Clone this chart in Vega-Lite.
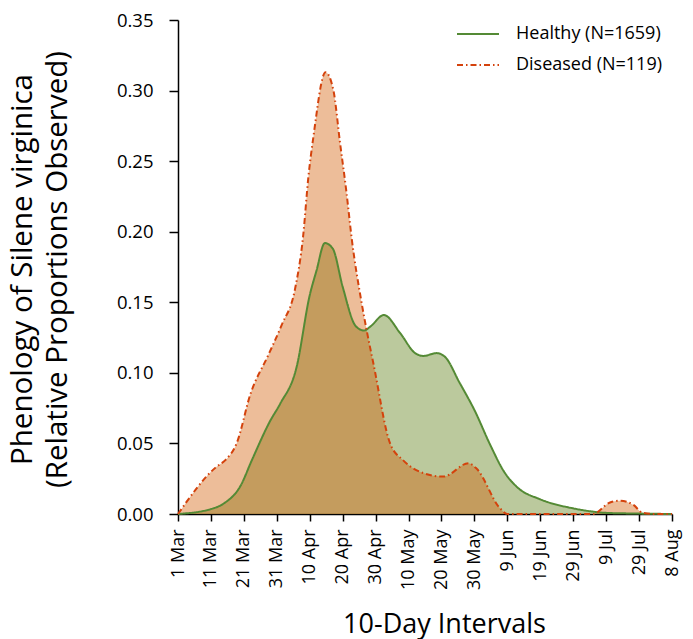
{
  "$schema": "https://vega.github.io/schema/vega-lite/v6.json",
  "autosize": {"type": "none"},
  "padding": {"left": 178, "top": 20, "right": 21, "bottom": 125},
  "width": 494,
  "height": 494,
  "background": "white",
  "config": {
    "font": "Open Sans",
    "view": {"stroke": null},
    "axis": {"grid": false, "domainColor": "black", "tickColor": "black", "labelColor": "black", "titleColor": "black", "titleFontWeight": "normal", "domainWidth": 1.5, "tickWidth": 1.5}
  },
  "data": {
    "values": [
      {"day": 0, "value": 0, "series": "Healthy (N=1659)"},
      {"day": 10, "value": 0.0035, "series": "Healthy (N=1659)"},
      {"day": 14, "value": 0.0076, "series": "Healthy (N=1659)"},
      {"day": 19, "value": 0.02, "series": "Healthy (N=1659)"},
      {"day": 22.4, "value": 0.038, "series": "Healthy (N=1659)"},
      {"day": 28, "value": 0.066, "series": "Healthy (N=1659)"},
      {"day": 31, "value": 0.078, "series": "Healthy (N=1659)"},
      {"day": 36, "value": 0.104, "series": "Healthy (N=1659)"},
      {"day": 40, "value": 0.155, "series": "Healthy (N=1659)"},
      {"day": 42, "value": 0.172, "series": "Healthy (N=1659)"},
      {"day": 44.6, "value": 0.192, "series": "Healthy (N=1659)"},
      {"day": 47, "value": 0.188, "series": "Healthy (N=1659)"},
      {"day": 50, "value": 0.161, "series": "Healthy (N=1659)"},
      {"day": 54, "value": 0.133, "series": "Healthy (N=1659)"},
      {"day": 56.5, "value": 0.13, "series": "Healthy (N=1659)"},
      {"day": 58.5, "value": 0.133, "series": "Healthy (N=1659)"},
      {"day": 62.5, "value": 0.141, "series": "Healthy (N=1659)"},
      {"day": 67.5, "value": 0.128, "series": "Healthy (N=1659)"},
      {"day": 72, "value": 0.114, "series": "Healthy (N=1659)"},
      {"day": 74.5, "value": 0.112, "series": "Healthy (N=1659)"},
      {"day": 78.5, "value": 0.114, "series": "Healthy (N=1659)"},
      {"day": 81, "value": 0.1115, "series": "Healthy (N=1659)"},
      {"day": 85.5, "value": 0.093, "series": "Healthy (N=1659)"},
      {"day": 90, "value": 0.0737, "series": "Healthy (N=1659)"},
      {"day": 95, "value": 0.048, "series": "Healthy (N=1659)"},
      {"day": 99, "value": 0.03, "series": "Healthy (N=1659)"},
      {"day": 103, "value": 0.019, "series": "Healthy (N=1659)"},
      {"day": 110, "value": 0.0104, "series": "Healthy (N=1659)"},
      {"day": 120, "value": 0.004, "series": "Healthy (N=1659)"},
      {"day": 125, "value": 0.002, "series": "Healthy (N=1659)"},
      {"day": 130, "value": 0.0008, "series": "Healthy (N=1659)"},
      {"day": 140, "value": 0.0003, "series": "Healthy (N=1659)"},
      {"day": 150, "value": 0, "series": "Healthy (N=1659)"},
      {"day": 0, "value": 0, "series": "Diseased (N=119)"},
      {"day": 11.7, "value": 0.0335, "series": "Diseased (N=119)"},
      {"day": 14.3, "value": 0.038, "series": "Diseased (N=119)"},
      {"day": 17.8, "value": 0.05, "series": "Diseased (N=119)"},
      {"day": 22, "value": 0.085, "series": "Diseased (N=119)"},
      {"day": 27.5, "value": 0.113, "series": "Diseased (N=119)"},
      {"day": 31.5, "value": 0.134, "series": "Diseased (N=119)"},
      {"day": 35.5, "value": 0.159, "series": "Diseased (N=119)"},
      {"day": 38, "value": 0.197, "series": "Diseased (N=119)"},
      {"day": 39.6, "value": 0.239, "series": "Diseased (N=119)"},
      {"day": 41.1, "value": 0.267, "series": "Diseased (N=119)"},
      {"day": 44.8, "value": 0.313, "series": "Diseased (N=119)"},
      {"day": 47.2, "value": 0.3, "series": "Diseased (N=119)"},
      {"day": 49.2, "value": 0.263, "series": "Diseased (N=119)"},
      {"day": 51.2, "value": 0.227, "series": "Diseased (N=119)"},
      {"day": 52.7, "value": 0.196, "series": "Diseased (N=119)"},
      {"day": 55.8, "value": 0.149, "series": "Diseased (N=119)"},
      {"day": 57.3, "value": 0.13, "series": "Diseased (N=119)"},
      {"day": 59.3, "value": 0.107, "series": "Diseased (N=119)"},
      {"day": 64.4, "value": 0.05, "series": "Diseased (N=119)"},
      {"day": 68.4, "value": 0.038, "series": "Diseased (N=119)"},
      {"day": 74.5, "value": 0.029, "series": "Diseased (N=119)"},
      {"day": 80.6, "value": 0.0265, "series": "Diseased (N=119)"},
      {"day": 88.2, "value": 0.036, "series": "Diseased (N=119)"},
      {"day": 90.7, "value": 0.032, "series": "Diseased (N=119)"},
      {"day": 97.8, "value": 0.004, "series": "Diseased (N=119)"},
      {"day": 100, "value": 0, "series": "Diseased (N=119)"},
      {"day": 110, "value": 0, "series": "Diseased (N=119)"},
      {"day": 120, "value": 0, "series": "Diseased (N=119)"},
      {"day": 126, "value": 0, "series": "Diseased (N=119)"},
      {"day": 131, "value": 0.008, "series": "Diseased (N=119)"},
      {"day": 134.2, "value": 0.0094, "series": "Diseased (N=119)"},
      {"day": 138.3, "value": 0.0064, "series": "Diseased (N=119)"},
      {"day": 141, "value": 0.001, "series": "Diseased (N=119)"},
      {"day": 145, "value": 0, "series": "Diseased (N=119)"},
      {"day": 150, "value": 0, "series": "Diseased (N=119)"}
    ]
  },
  "encoding": {
    "x": {
      "field": "day", "type": "quantitative",
      "scale": {"domain": [0, 150], "nice": false, "zero": false},
      "axis": {
        "values": [0, 10, 20, 30, 40, 50, 60, 70, 80, 90, 100, 110, 120, 130, 140, 150],
        "labelExpr": "['1 Mar','11 Mar','21 Mar','31 Mar','10 Apr','20 Apr','30 Apr','10 May','20 May','30 May','9 Jun','19 Jun','29 Jun','9 Jul','29 Jul','8 Aug'][round(datum.value/10)]",
        "labelAngle": -90, "labelFontSize": 18, "labelPadding": 8, "tickSize": 7,
        "title": "10-Day Intervals", "titleFontSize": 27, "titleX": 266, "titleY": 118, "titleBaseline": "alphabetic", "titleAlign": "center"
      }
    },
    "y": {
      "field": "value", "type": "quantitative",
      "scale": {"domain": [0, 0.35], "nice": false},
      "axis": {
        "values": [0, 0.05, 0.1, 0.15, 0.2, 0.25, 0.3, 0.35], "format": ".2f",
        "labelFontSize": 18.5, "labelPadding": 16, "tickSize": 9,
        "title": ["Phenology of Silene virginica", "(Relative Proportions Observed)"],
        "titleFontSize": 29.5, "titleLineHeight": 35, "titleX": -141, "titleY": 249
      }
    }
  },
  "layer": [
    {
      "transform": [{"filter": "datum.series == 'Healthy (N=1659)'"}],
      "mark": {"type": "area", "interpolate": "monotone", "color": "#77933C", "opacity": 0.5}
    },
    {
      "transform": [{"filter": "datum.series == 'Diseased (N=119)'"}],
      "mark": {"type": "area", "interpolate": "monotone", "color": "#D25A00", "opacity": 0.4}
    },
    {
      "mark": {"type": "line", "interpolate": "monotone", "strokeWidth": 2},
      "encoding": {
        "color": {
          "field": "series", "type": "nominal",
          "scale": {"domain": ["Healthy (N=1659)", "Diseased (N=119)"], "range": ["#548A35", "#D4420C"]},
          "legend": {"title": null, "orient": "none", "legendX": 278, "legendY": -8, "symbolType": "stroke", "symbolSize": 1764, "symbolStrokeWidth": 2, "labelFontSize": 18, "labelColor": "black", "rowPadding": -3, "labelOffset": 16}
        },
        "strokeDash": {
          "field": "series", "type": "nominal",
          "scale": {"domain": ["Healthy (N=1659)", "Diseased (N=119)"], "range": [[1, 0], [6, 3, 1.5, 3]]},
          "legend": {"title": null, "orient": "none", "legendX": 278, "legendY": -8, "symbolType": "stroke", "symbolSize": 1764, "symbolStrokeWidth": 2, "labelFontSize": 18, "labelColor": "black", "rowPadding": -3, "labelOffset": 16}
        }
      }
    }
  ]
}
